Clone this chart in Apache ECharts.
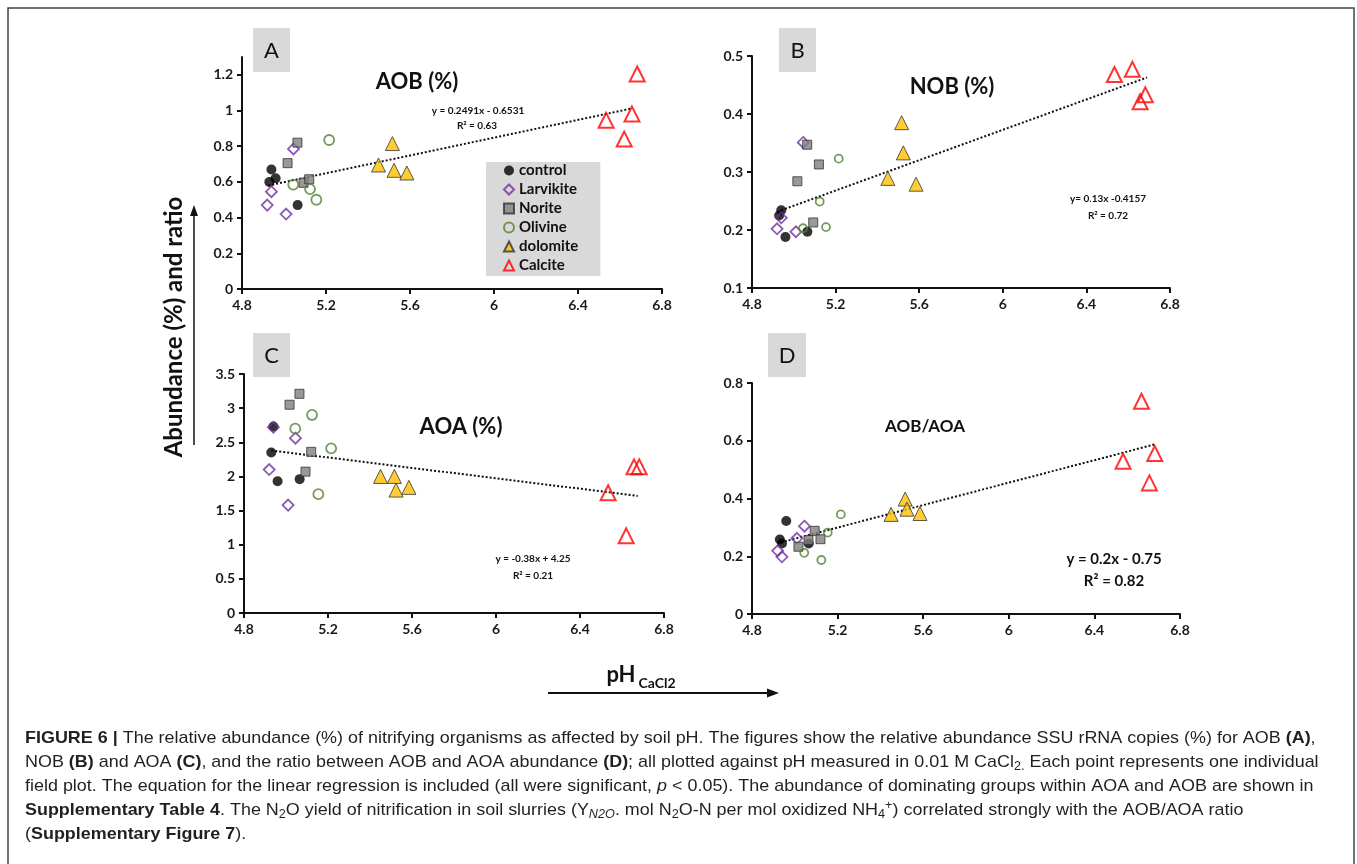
<!DOCTYPE html>
<html>
<head>
<meta charset="utf-8">
<script src="https://cdn.jsdelivr.net/npm/echarts@6/dist/echarts.min.js"></script>
<style>
  html, body { margin: 0; padding: 0; background: #fff; }
  #app { width: 1357px; height: 864px; }
</style>
</head>
<body>
<div id="app"></div>
<script>
var groups = ['control', 'Larvikite', 'Norite', 'Olivine', 'dolomite', 'Calcite'];

// pH (CaCl2) of the four field plots of each treatment
var phValues = [
    [4.93, 4.94, 4.96, 5.065],
    [4.92, 4.94, 5.01, 5.045],
    [5.017, 5.064, 5.093, 5.12],
    [5.044, 5.124, 5.154, 5.215],
    [5.45, 5.516, 5.524, 5.585],
    [6.534, 6.62, 6.657, 6.682]
];
// A: AOB (%)
var aobValues = [
    [0.60, 0.67, 0.62, 0.47],
    [0.47, 0.545, 0.42, 0.785],
    [0.705, 0.82, 0.595, 0.615],
    [0.585, 0.56, 0.50, 0.835],
    [0.695, 0.815, 0.665, 0.65],
    [0.945, 0.84, 0.98, 1.205]
];
// B: NOB (%)
var nobValues = [
    [0.225, 0.234, 0.188, 0.197],
    [0.202, 0.221, 0.197, 0.351],
    [0.284, 0.347, 0.213, 0.313],
    [0.203, 0.249, 0.205, 0.323],
    [0.289, 0.385, 0.333, 0.279],
    [0.468, 0.477, 0.421, 0.433]
];
// C: AOA (%)
var aoaValues = [
    [2.35, 2.73, 1.93, 1.96],
    [2.10, 2.72, 1.58, 2.56],
    [3.05, 3.21, 2.07, 2.36],
    [2.70, 2.90, 1.74, 2.41],
    [2.00, 2.00, 1.80, 1.84],
    [1.76, 1.13, 2.14, 2.14]
];
// D: AOB/AOA
var ratioValues = [
    [0.258, 0.244, 0.322, 0.244],
    [0.219, 0.198, 0.262, 0.304],
    [0.233, 0.256, 0.288, 0.259],
    [0.212, 0.187, 0.282, 0.345],
    [0.345, 0.398, 0.363, 0.348],
    [0.529, 0.737, 0.454, 0.556]
];
// end points of the dotted regression lines
var aobTrend = [[4.925, 0.58], [6.65, 1.01]];
var nobTrend = [[4.94, 0.234], [6.69, 0.463]];
var aoaTrend = [[4.93, 2.38], [6.675, 1.715]];
var ratioTrend = [[4.935, 0.248], [6.68, 0.587]];

var xRange = [4.8, 6.8, 0.4];
var yRanges = [[0, 1.3, 0.2], [0.1, 0.5, 0.1], [0, 3.5, 0.5], [0, 0.8, 0.2]];

var panels = [
    { values: aobValues, trend: aobTrend, grid: { left: 242, top: 57, width: 420, height: 232 }, small: 10 },
    { values: nobValues, trend: nobTrend, grid: { left: 752, top: 56, width: 418, height: 232 }, small: 8 },
    { values: aoaValues, trend: aoaTrend, grid: { left: 244, top: 374, width: 420, height: 239 }, small: 10 },
    { values: ratioValues, trend: ratioTrend, grid: { left: 752, top: 383, width: 428, height: 231 }, small: 8 }
];

var clear = 'rgba(255,255,255,0)';
var markers = [
    { symbol: 'circle', size: 10, itemStyle: { color: '#000' } },
    { symbol: 'diamond', size: 11, itemStyle: { color: clear, borderColor: '#7030a0', borderWidth: 1.8 } },
    { symbol: 'rect', size: 9, itemStyle: { color: '#808080', borderColor: '#333', borderWidth: 1 } },
    { symbol: 'circle', size: 10, itemStyle: { color: clear, borderColor: '#548235', borderWidth: 1.8 } },
    { symbol: 'triangle', size: 14, itemStyle: { color: '#ffc000', borderColor: '#333', borderWidth: 1 } },
    { symbol: 'triangle', size: 15, itemStyle: { color: clear, borderColor: '#ff0000', borderWidth: 2 } }
];

var tickFont = { fontFamily: 'Lato', fontWeight: 'bold', fontSize: 14, color: '#1a1a1a' };
var axisLine = { show: true, lineStyle: { color: '#111', width: 2 } };

var grids = [], xAxes = [], yAxes = [], series = [];
panels.forEach(function (p, i) {
    grids.push(p.grid);
    xAxes.push({
        type: 'value', gridIndex: i, min: xRange[0], max: xRange[1], interval: xRange[2],
        axisLine: axisLine, axisTick: { show: true, length: 5, lineStyle: { color: '#111', width: 2 } },
        splitLine: { show: false }, axisLabel: Object.assign({ margin: 9 }, tickFont)
    });
    yAxes.push({
        type: 'value', gridIndex: i, min: yRanges[i][0], max: yRanges[i][1], interval: yRanges[i][2],
        axisLine: axisLine, axisTick: { show: true, length: 5, lineStyle: { color: '#111', width: 2 } },
        splitLine: { show: false }, axisLabel: Object.assign({ margin: 9, showMaxLabel: i !== 0 }, tickFont)
    });
    series.push({
        type: 'line', name: 'trend' + i, xAxisIndex: i, yAxisIndex: i, data: p.trend,
        symbol: 'none', silent: true, z: 1,
        lineStyle: { color: '#111', width: 2, type: [2, 2] }
    });
    groups.forEach(function (g, j) {
        var m = markers[j];
        series.push({
            type: 'scatter', name: g, xAxisIndex: i, yAxisIndex: i, z: 2,
            symbol: m.symbol,
            symbolSize: j === 3 ? p.small : m.size,
            itemStyle: m.itemStyle,
            data: phValues[j].map(function (x, k) { return [x, p.values[j][k]]; })
        });
    });
});

function txt(x, y, text, font, extra) {
    return Object.assign({
        type: 'text', x: x, y: y, z: 10,
        style: { text: text, font: font, fill: '#111', align: 'center', verticalAlign: 'middle',
                 textAlign: 'center', textVerticalAlign: 'middle' }
    }, extra || {});
}
function letterBox(x, y, w, h, letter) {
    return [
        { type: 'rect', shape: { x: x, y: y, width: w, height: h }, style: { fill: '#d9d9d9' }, z: 5 },
        txt(x + w / 2, y + h / 2 + 1, letter, '22px Lato', { z: 6 })
    ];
}

var capFont = '17px "Liberation Sans"';
function tok(size, weight, style, va) {
    return { fontFamily: 'Liberation Sans', fontSize: size, fontWeight: weight || 'normal',
             fontStyle: style || 'normal', lineHeight: va ? size : 21, verticalAlign: va || 'middle', fill: '#231f20' };
}
var capRich = {
    n: tok(17), b: tok(17, 'bold'), i: tok(17, 'normal', 'italic'),
    sub: tok(12, 'normal', 'normal', 'bottom'), isub: tok(12, 'normal', 'italic', 'bottom'),
    sup: tok(12, 'normal', 'normal', 'top')
};
var captionLines = [
    '{b|FIGURE 6 |}{n| The relative abundance (%) of nitrifying organisms as affected by soil pH. The figures show the relative abundance SSU rRNA copies (%) for AOB }{b|(A)}{n|,}',
    '{n|NOB }{b|(B)}{n| and AOA }{b|(C)}{n|, and the ratio between AOB and AOA abundance }{b|(D)}{n|; all plotted against pH measured in 0.01 M CaCl}{sub|2.}{n| Each point represents one individual}',
    '{n|field plot. The equation for the linear regression is included (all were significant, }{i|p}{n| < 0.05). The abundance of dominating groups within AOA and AOB are shown in}',
    '{b|Supplementary Table 4}{n|. The N}{sub|2}{n|O yield of nitrification in soil slurries (Y}{isub|N2O}{n|. mol N}{sub|2}{n|O-N per mol oxidized NH}{sub|4}{sup|+}{n|) correlated strongly with the AOB/AOA ratio}',
    '{n|(}{b|Supplementary Figure 7}{n|).}'
];
var captionY = [738, 762, 786, 810, 834];

var graphics = [
    { type: 'rect', shape: { x: 8, y: 8, width: 1346, height: 870 }, style: { fill: 'none', stroke: '#444', lineWidth: 1.5 }, z: 0 },
    txt(417, 82, 'AOB (%)', 'bold 22px Lato'),
    txt(952, 87, 'NOB (%)', 'bold 22px Lato'),
    txt(461, 427, 'AOA (%)', 'bold 22px Lato'),
    txt(925, 427, 'AOB/AOA', 'bold 17px Lato'),
    txt(478, 111, 'y = 0.2491x - 0.6531', 'bold 10px Lato'),
    txt(477, 126, 'R² = 0.63', 'bold 10px Lato'),
    txt(1108, 199, 'y= 0.13x -0.4157', 'bold 10px Lato'),
    txt(1108, 216, 'R² = 0.72', 'bold 10px Lato'),
    txt(533, 559, 'y = -0.38x + 4.25', 'bold 10px Lato'),
    txt(533, 576, 'R² = 0.21', 'bold 10px Lato'),
    txt(1114, 559, 'y = 0.2x - 0.75', 'bold 15px Lato'),
    txt(1114, 581, 'R² = 0.82', 'bold 15px Lato'),
    txt(174, 327, 'Abundance (%) and ratio', 'bold 24px Lato', { rotation: Math.PI / 2 }),
    { type: 'line', shape: { x1: 194, y1: 445, x2: 194, y2: 214 }, style: { stroke: '#111', lineWidth: 1.5 }, z: 10 },
    { type: 'polygon', shape: { points: [[194, 205], [190, 216], [198, 216]] }, style: { fill: '#111' }, z: 10 },
    txt(621, 675, 'pH', 'bold 22px Lato'),
    txt(657, 683, 'CaCl2', 'bold 14px Lato'),
    { type: 'line', shape: { x1: 548, y1: 693, x2: 768, y2: 693 }, style: { stroke: '#111', lineWidth: 2 }, z: 10 },
    { type: 'polygon', shape: { points: [[779, 693], [767, 688.5], [767, 697.5]] }, style: { fill: '#111' }, z: 10 }
];
graphics = graphics.concat(letterBox(253, 28, 37, 44, 'A'), letterBox(779, 28, 37, 44, 'B'),
    letterBox(253, 333, 37, 44, 'C'), letterBox(768, 333, 38, 44, 'D'));
captionLines.forEach(function (line, k) {
    graphics.push({
        type: 'text', x: 25, y: captionY[k], z: 10, scaleX: 1.055,
        style: { text: line, rich: capRich, font: capFont, fill: '#231f20',
                 align: 'left', verticalAlign: 'middle', textAlign: 'left', textVerticalAlign: 'middle' }
    });
});

var myChart = echarts.init(document.getElementById('app'));
myChart.setOption({
    backgroundColor: '#fff',
    animation: false,
    grid: grids,
    xAxis: xAxes,
    yAxis: yAxes,
    legend: {
        data: groups, orient: 'vertical', left: 486, top: 162,
        backgroundColor: '#d9d9d9', padding: [1, 22, 3, 17],
        itemWidth: 10, itemHeight: 10, itemGap: 4,
        textStyle: { fontFamily: 'Lato', fontWeight: 'bold', fontSize: 15, lineHeight: 15, color: '#111' }
    },
    series: series,
    graphic: graphics
});
</script>
</body>
</html>
